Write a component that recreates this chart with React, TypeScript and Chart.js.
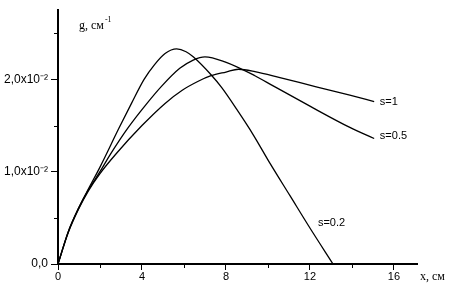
import React, { useEffect, useRef } from "react";
import { Chart, registerables } from "chart.js";

Chart.register(...registerables);

// s = 0.2
const xS02 = [0, 0.49, 0.97, 1.44, 2.0, 2.9, 3.5, 4.1, 4.6, 5.1, 5.65, 6.1, 6.44, 7.29, 7.8, 8.5, 9.3, 10.1, 11.05, 12.0, 13.1];
const yS02 = [0, 0.35, 0.6, 0.81, 1.05, 1.47, 1.74, 2.0, 2.16, 2.28, 2.33, 2.3, 2.245, 2.05, 1.91, 1.68, 1.4, 1.09, 0.74, 0.39, 0.0];
// s = 0.5
const xS05 = [0, 0.49, 0.97, 1.44, 2.0, 2.5, 3.35, 4.2, 4.95, 5.8, 6.44, 7.0, 7.95, 9.38, 10.25, 12.0, 13.9, 15.06];
const yS05 = [0, 0.35, 0.6, 0.8, 1.0, 1.19, 1.48, 1.73, 1.93, 2.12, 2.21, 2.245, 2.19, 2.04, 1.93, 1.71, 1.48, 1.36];
// s = 1
const xS1 = [0, 0.49, 0.97, 1.44, 2.0, 2.79, 4.0, 5.1, 5.9, 6.68, 7.29, 8.0, 8.6, 9.38, 10.57, 12.3, 13.9, 15.06];
const yS1 = [0, 0.34, 0.59, 0.79, 0.98, 1.2, 1.5, 1.74, 1.88, 1.98, 2.04, 2.08, 2.11, 2.085, 2.02, 1.92, 1.83, 1.76];

const xTicks = [0, 2, 4, 6, 8, 10, 12, 14, 16];
const xLabelled = [0, 4, 8, 12, 16];
const yTicks = [0, 0.5, 1, 1.5, 2, 2.5];
const yLabels: Record<string, string> = { "0": "0,0", "1": "1,0x10⁻²", "2": "2,0x10⁻²" };

const curveLabels = [
  { text: "s=1", x: 15.33, y: 1.76 },
  { text: "s=0.5", x: 15.33, y: 1.385 },
  { text: "s=0.2", x: 12.38, y: 0.448 },
];

const SANS = "'Liberation Sans', Arial, sans-serif";
const SERIF = "'Liberation Serif', 'Times New Roman', serif";

function pts(xs: number[], ys: number[]) {
  return xs.map((x, i) => ({ x, y: ys[i] }));
}

const decorPlugin = {
  id: "decor",
  afterDraw(chart: any) {
    const ctx = chart.ctx;
    const xs = chart.scales.x;
    const ys = chart.scales.y;
    const area = chart.chartArea;
    ctx.save();
    ctx.strokeStyle = "#000";
    ctx.lineWidth = 1;
    xTicks.forEach((v) => {
      if (xLabelled.includes(v)) return;
      const px = Math.round(xs.getPixelForValue(v)) + 0.5;
      ctx.beginPath();
      ctx.moveTo(px, area.bottom);
      ctx.lineTo(px, area.bottom + 4);
      ctx.stroke();
    });
    yTicks.forEach((v) => {
      if (v % 1 === 0) return;
      const py = Math.round(ys.getPixelForValue(v)) + 0.5;
      ctx.beginPath();
      ctx.moveTo(area.left, py);
      ctx.lineTo(area.left - 4, py);
      ctx.stroke();
    });
    ctx.fillStyle = "#000";
    ctx.textBaseline = "middle";
    ctx.textAlign = "left";
    ctx.font = `11px ${SANS}`;
    curveLabels.forEach((l) => {
      ctx.fillText(l.text, xs.getPixelForValue(l.x), ys.getPixelForValue(l.y));
    });
    ctx.font = `12px ${SERIF}`;
    ctx.textBaseline = "alphabetic";
    const gx = xs.getPixelForValue(1.0);
    const gy = ys.getPixelForValue(2.58) + 3;
    ctx.fillText("g, см", gx, gy);
    const gw = ctx.measureText("g, см").width;
    ctx.font = `8px ${SERIF}`;
    ctx.fillText("-1", gx + gw + 1, gy - 7);
    ctx.font = `12px ${SERIF}`;
    ctx.fillText("x, см", xs.getPixelForValue(17.24), ys.getPixelForValue(-0.17));
    ctx.restore();
  },
};

export default function App() {
  const ref = useRef<HTMLCanvasElement>(null);
  useEffect(() => {
    if (!ref.current) return;
    const line = (data: any) => ({
      data,
      showLine: true,
      borderColor: "#000",
      backgroundColor: "#000",
      borderWidth: 1.3,
      pointRadius: 0,
      cubicInterpolationMode: "monotone" as const,
      fill: false,
    });
    const chart = new Chart(ref.current, {
      type: "scatter",
      data: {
        datasets: [
          { label: "s=0.2", ...line(pts(xS02, yS02)) },
          { label: "s=0.5", ...line(pts(xS05, yS05)) },
          { label: "s=1", ...line(pts(xS1, yS1)) },
        ],
      },
      options: {
        responsive: false,
        animation: false,
        layout: { padding: { top: 0, right: 41, left: 0, bottom: 0 } },
        plugins: { legend: { display: false }, tooltip: { enabled: false } },
        scales: {
          x: {
            type: "linear",
            min: 0,
            max: 17.1,
            afterBuildTicks: (s: any) => {
              s.ticks = xTicks.map((v) => ({ value: v }));
            },
            afterFit: (s: any) => {
              s.height = 28;
            },
            ticks: {
              autoSkip: false,
              maxRotation: 0,
              padding: 0,
              color: "#000",
              font: { family: SANS, size: 11 },
              callback: (v: any) => (xLabelled.includes(Number(v)) ? String(v) : ""),
            },
            grid: {
              drawOnChartArea: false,
              tickLength: 6,
              tickWidth: 1,
              tickColor: (c: any) => (c.tick && xLabelled.includes(c.tick.value) ? "#000" : "rgba(0,0,0,0)"),
            },
            border: { display: true, color: "#000", width: 2 },
          },
          y: {
            type: "linear",
            min: 0,
            max: 2.75,
            afterBuildTicks: (s: any) => {
              s.ticks = yTicks.map((v) => ({ value: v }));
            },
            afterFit: (s: any) => {
              s.width = 58;
            },
            ticks: {
              autoSkip: false,
              padding: 3,
              color: "#000",
              font: { family: SANS, size: 12 },
              callback: (v: any) => yLabels[String(v)] ?? "",
            },
            grid: {
              drawOnChartArea: false,
              tickLength: 7,
              tickWidth: 1,
              tickColor: (c: any) => (c.tick && c.tick.value % 1 === 0 ? "#000" : "rgba(0,0,0,0)"),
            },
            border: { display: true, color: "#000", width: 2 },
          },
        },
      },
      plugins: [decorPlugin],
    });
    return () => chart.destroy();
  }, []);
  return (
    <div style={{ position: "fixed", left: 0, top: 0, width: 458, height: 292, background: "#fff" }}>
      <canvas ref={ref} width={458} height={292} style={{ width: 458, height: 292, display: "block" }} />
    </div>
  );
}
